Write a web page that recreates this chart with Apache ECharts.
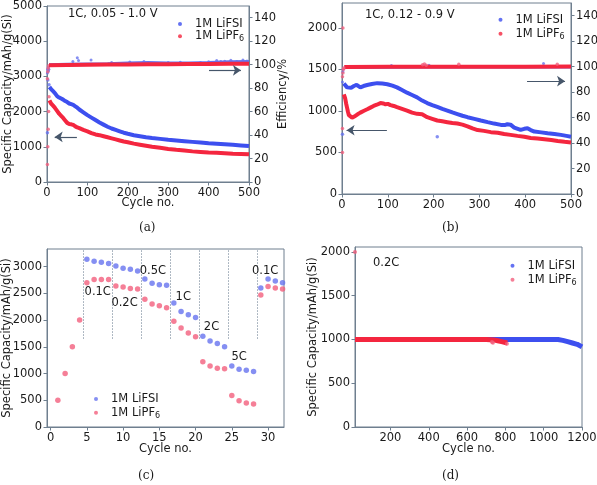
<!DOCTYPE html>
<html><head><meta charset="utf-8">
<script src="https://cdn.jsdelivr.net/npm/echarts/dist/echarts.min.js"></script>
<style>html,body{margin:0;padding:0;background:#fff}#c{width:597px;height:485px}</style>
</head><body><div id="c"></div>
<script>
// ---------- DATA ----------
// (a) 1C, 0.05 - 1.0 V
const aCycles = [6,10,15,20,25,30,35,40,45,50,55,60,65,70,75,80,90,100,110,120,130,140,150,160,170,180,190,200,215,230,245,260,280,300,320,340,360,380,400,420,440,460,480,500];
const aFsiCap = [2700,2640,2580,2520,2440,2400,2370,2340,2300,2270,2230,2210,2190,2150,2110,2060,1980,1900,1830,1760,1690,1630,1570,1520,1480,1440,1400,1370,1330,1300,1270,1250,1225,1200,1180,1160,1140,1120,1100,1085,1070,1055,1040,1020];
const aPf6Cap = [2320,2230,2170,2100,2020,1940,1880,1820,1750,1680,1650,1640,1620,1580,1550,1530,1480,1440,1390,1350,1330,1300,1270,1240,1210,1180,1150,1130,1090,1060,1030,1000,970,940,915,895,870,855,840,830,820,805,795,785];
const aEarlyCycles = [1,2,3,4,5];
const aFsiEarlyCap = [1400,2900,3150,3200,2760];
const aPf6EarlyCap = [500,1000,1500,2000,2420];
const aEffCycles = [5,50,100,150,200,250,300,350,400,450,500];
const aPf6Eff = [99.6,99.8,100,100.1,100.2,100.3,100.4,100.5,100.6,100.7,100.8];
const aFsiEff = [99.8,100.2,100.4,100.6,101.2,101.6,101.2,101.3,101.6,102.2,102.4];
const aFsiEffOutX = [1,2,3,64,75,78,109,160,205,240,300,330,380,400,420,430,440,455,470,485,495];
const aFsiEffOutY = [93,96,98,102.8,106,103.5,104,101.8,102.2,102.8,101.8,102,101.9,102.5,103.5,102.6,103,103.8,102.8,104,103.2];
const aPf6EffEarlyX = [1,2,3,4];
const aPf6EffEarlyY = [88,94,97,99];

// (b) 1C, 0.12 - 0.9 V
const bFsiCycles = [4,8,11,15,20,26,32,36,40,47,55,65,77,88,99,110,120,131,142,153,164,175,186,197,208,219,230,241,252,263,274,289,303,318,332,347,355,361,368,376,390,398,405,412,420,435,449,464,478,490,500];
const bFsiCap = [1330,1310,1284,1260,1280,1300,1315,1324,1284,1300,1312,1325,1335,1330,1322,1305,1284,1252,1220,1192,1164,1125,1095,1070,1048,1025,1005,982,962,942,925,905,885,865,848,832,830,840,835,800,772,785,792,770,752,742,732,722,712,700,690];
const bPf6Cycles = [4,7,9,11,13,15,18,22,26,29,34,40,47,55,62,69,76,84,90,95,100,106,113,120,131,142,153,164,175,186,197,208,219,230,241,252,263,274,285,296,310,325,340,354,368,383,398,412,427,442,457,471,486,500];
const bPf6Cap = [1200,1150,1090,1040,990,950,930,920,930,940,960,980,1000,1020,1040,1060,1075,1095,1090,1080,1085,1070,1060,1045,1025,1005,980,965,960,925,905,885,875,865,855,848,835,815,790,770,760,745,738,722,712,700,690,675,668,660,650,638,628,620];
const bFsiCapOutX = [1,208];
const bFsiCapOutY = [720,690];
const bPf6CapOutX = [2,1,1];
const bPf6CapOutY = [2000,790,500];
const bEffCycles = [5,100,200,300,400,500];
const bPf6Eff = [99.7,100,100,100,100,100.1];
const bFsiEff = [99.6,99.8,99.9,99.9,99.9,100];
const bPf6EffOutX = [1,2,3,4,176,180,184,255,470];
const bPf6EffOutY = [92,95,98,99,101.5,102,101.2,101.8,101.8];
const bFsiEffOutX = [1,2,3,108,180,190,440];
const bFsiEffOutY = [88,96,98,101,100.8,101.2,102.5];

// (c) rate capability
const cFsiCycles = [5,6,7,8,9,10,11,12,13,14,15,16,17,18,19,20,21,22,23,24,25,26,27,28,29,30,31,32];
const cFsiCap = [3140,3100,3080,3060,3010,2970,2950,2920,2770,2690,2660,2650,2320,2160,2100,2050,1700,1610,1560,1500,1140,1080,1060,1040,2600,2770,2730,2700];
const cPf6Cycles = [1,2,3,4,5,6,7,8,9,10,11,12,13,14,15,16,17,18,19,20,21,22,23,24,25,26,27,28,29,30,31,32];
const cPf6Cap = [500,1000,1500,2000,2700,2760,2760,2760,2640,2620,2590,2580,2390,2300,2270,2230,1980,1850,1760,1690,1220,1140,1100,1090,590,490,450,430,2470,2630,2600,2580];
const cDividers = [4.5,8.5,12.5,16.5,20.5,24.5,28.5];
const cRateNames = ['0.1C','0.2C','0.5C','1C','2C','5C','0.1C'];
const cRateX = [6.5,10.2,14.1,18.3,22.2,26.0,29.6];
const cRateY = [2520,2320,2910,2440,1870,1310,2910];

// (d) 0.2C long cycling
const dFsiCycles = [15,200,400,600,760,900,1000,1075,1100,1125,1150,1175,1200];
const dFsiCap = [1000,1000,1000,1000,1000,1000,1000,1000,990,975,960,945,915];
const dPf6Cycles = [15,200,400,600,700,740,760,780,800,810];
const dPf6Cap = [1000,1000,1000,1000,1000,995,985,975,965,960];
const dPf6OutX = [15,730,735,808];
const dPf6OutY = [2000,970,962,950];

// ---------- STYLE ----------
const BLUE='#3d4fef', RED='#f4263f', LBLUE='#6673ef', PINK='#f25f7d', AX='#6f7f8f', TXT='#1a1a1a', ARW='#46566a';
const FONT='DejaVu Sans', FS=11.5;
const zip=(xs,ys)=>xs.map((x,i)=>[x,ys[i]]);
const NAME_FSI='1M LiFSI', NAME_PF6='1M LiPF6';

function grid(left,top,width,height){return {left,top,width,height,containLabel:false,outerBoundsMode:'none',show:true,borderColor:AX,borderWidth:1,backgroundColor:'transparent'};}
function axis(kind,gi,o){
  const a={type:'value',gridIndex:gi,nameMoveOverlap:false,
    axisLine:{show:true,onZero:false,lineStyle:{color:AX,width:1}},
    axisTick:{show:true,length:3.5,lineStyle:{color:AX,width:1}},
    splitLine:{show:false},
    axisLabel:{color:TXT,fontSize:FS,fontFamily:FONT,margin:5,formatter:v=>String(v),
      showMinLabel:o.showMin!==false,showMaxLabel:o.showMax!==false},
    nameTextStyle:{color:TXT,fontSize:FS,fontFamily:FONT},
    nameLocation:'middle'};
  ['min','max','interval','position','name','nameGap','splitNumber'].forEach(k=>{if(o[k]!==undefined)a[k]=o[k];});
  return a;
}
function line(name,xi,yi,xs,ys,color,w,z){return {type:'line',name,xAxisIndex:xi,yAxisIndex:yi,data:zip(xs,ys),symbol:'none',showSymbol:false,
  lineStyle:{color,width:w},itemStyle:{color},z:z||2,silent:true,animation:false};}
function dots(name,xi,yi,xs,ys,color,size,z){return {type:'scatter',name,xAxisIndex:xi,yAxisIndex:yi,data:zip(xs,ys),symbol:'circle',symbolSize:size,
  itemStyle:{color},z:z||3,silent:true,animation:false};}
function arrow(xi,yi,from,to){return {type:'line',xAxisIndex:xi,yAxisIndex:yi,data:[],silent:true,
  markLine:{silent:true,symbol:['none','arrow'],symbolSize:8,label:{show:false},lineStyle:{color:ARW,width:1.2,type:'solid'},
  emphasis:{disabled:true},animation:false,data:[[{coord:from},{coord:to}]]}};}

function legend(left,top,gap,cFsi,cPf6){
  return {orient:'vertical',left,top,itemGap:gap,icon:'circle',itemWidth:4,itemHeight:4,selectedMode:false,
    data:[{name:NAME_FSI,itemStyle:{color:cFsi}},{name:NAME_PF6,itemStyle:{color:cPf6}}],
    formatter:n=>n===NAME_PF6?'{t|1M LiPF}{s|6}':'{t|'+n+'}',
    textStyle:{padding:[0,0,0,8],rich:{t:{fontSize:FS,fontFamily:FONT,color:TXT,lineHeight:14},
      s:{fontSize:8,fontFamily:FONT,color:TXT,lineHeight:8,verticalAlign:'bottom'}}}};
}

const option={
  animation:false,
  textStyle:{fontFamily:FONT},
  grid:[grid(47,6,202,176),grid(342,3,229,191),grid(47,249,237,178),grid(355,247,227,180)],
  xAxis:[
    axis('x',0,{min:0,max:500,interval:100,name:'Cycle no.',nameGap:15}),
    axis('x',1,{min:0,max:500,interval:100}),
    axis('x',2,{min:-0.5,max:32.2,splitNumber:5,showMin:false,showMax:false,name:'Cycle no.',nameGap:16}),
    axis('x',3,{min:15,max:1200,splitNumber:5,showMin:false,name:'Cycle no.',nameGap:16})
  ],
  yAxis:[
    axis('y',0,{min:0,max:5000,interval:1000,position:'left',name:'Specific Capacity/mAh/g(Si)',nameGap:33}),
    axis('y',0,{min:0,max:150,interval:20,position:'right',showMax:false,name:'Efficiency/%',nameGap:28}),
    axis('y',1,{min:0,max:2300,interval:500,position:'left',showMax:false}),
    axis('y',1,{min:0,max:150,interval:20,position:'right',showMax:false}),
    axis('y',2,{min:0,max:3330,interval:500,position:'left',showMax:false,name:'Specific Capacity/mAh/g(Si)',nameGap:34}),
    axis('y',3,{min:0,max:2057,interval:500,position:'left',showMax:false,name:'Specific Capacity/mAh/g(Si)',nameGap:35.5})
  ],
  legend:[legend(173,13,0.3,BLUE,RED),legend(493.5,8.7,2,BLUE,RED),legend(89,388,1.7,LBLUE,PINK),legend(505.5,254.7,2,BLUE,PINK)],
  series:[
    // legend entries (no marks of their own)
    dots(NAME_FSI,0,0,[],[],BLUE,5),
    dots(NAME_PF6,0,0,[],[],RED,5),
    // (a)
    line('aFsiCap',0,0,aCycles,aFsiCap,BLUE,4),
    line('aPf6Cap',0,0,aCycles,aPf6Cap,RED,4),
    dots('aFsiEarly',0,0,aEarlyCycles,aFsiEarlyCap,LBLUE,3.5),
    dots('aPf6Early',0,0,aEarlyCycles,aPf6EarlyCap,PINK,3.5),
    line('aFsiEff',0,1,aEffCycles,aFsiEff,LBLUE,3.5,2),
    dots('aFsiEffOut',0,1,aFsiEffOutX,aFsiEffOutY,LBLUE,3,2),
    line('aPf6Eff',0,1,aEffCycles,aPf6Eff,RED,4,4),
    dots('aPf6EffEarly',0,1,aPf6EffEarlyX,aPf6EffEarlyY,PINK,3.5),
    arrow(0,0,[74,1280],[19,1280]),
    arrow(0,1,[401,95.2],[480,95.2]),
    // (b)
    line('bFsiCap',1,2,bFsiCycles,bFsiCap,BLUE,4),
    line('bPf6Cap',1,2,bPf6Cycles,bPf6Cap,RED,4),
    dots('bFsiOut',1,2,bFsiCapOutX,bFsiCapOutY,LBLUE,3.5),
    dots('bPf6Out',1,2,bPf6CapOutX,bPf6CapOutY,PINK,3.5),
    line('bFsiEff',1,3,bEffCycles,bFsiEff,LBLUE,3.5,2),
    dots('bFsiEffOut',1,3,bFsiEffOutX,bFsiEffOutY,LBLUE,3,2),
    line('bPf6Eff',1,3,bEffCycles,bPf6Eff,RED,4,4),
    dots('bPf6EffOut',1,3,bPf6EffOutX,bPf6EffOutY,PINK,3.5,4),
    arrow(1,2,[98,768],[10,768]),
    arrow(1,3,[404,88.6],[487,88.6]),
    // (c)
    dots('cFsi',2,4,cFsiCycles,cFsiCap,LBLUE,5.5),
    Object.assign(dots('cPf6',2,4,cPf6Cycles,cPf6Cap,PINK,5.5),{
      markLine:{silent:true,symbol:['none','none'],label:{show:false},lineStyle:{color:'#95a2b0',width:1,type:[1.5,1.5]},animation:false,
        data:cDividers.map(x=>[{coord:[x,1650]},{coord:[x,3330]}])},
      markPoint:{silent:true,symbol:'circle',symbolSize:0,animation:false,
        label:{show:true,position:'inside',color:TXT,fontSize:FS,fontFamily:FONT,formatter:'{b}'},
        data:cRateNames.map((n,i)=>({name:n,coord:[cRateX[i],cRateY[i]]}))}}),
    // (d)
    line('dFsi',3,5,dFsiCycles,dFsiCap,BLUE,5),
    line('dPf6',3,5,dPf6Cycles,dPf6Cap,RED,5,3),
    dots('dPf6Out',3,5,dPf6OutX,dPf6OutY,PINK,4,3)
  ],
  graphic:[
    {type:'text',left:68,top:8,style:{text:'1C, 0.05 - 1.0 V',font:FS+'px "DejaVu Sans"',fill:TXT}},
    {type:'text',left:365,top:9,style:{text:'1C, 0.12 - 0.9 V',font:FS+'px "DejaVu Sans"',fill:TXT}},
    {type:'text',left:373,top:257,style:{text:'0.2C',font:FS+'px "DejaVu Sans"',fill:TXT}},
    {type:'text',left:139,top:222,style:{text:'(a)',font:'12px "DejaVu Serif"',fill:TXT}},
    {type:'text',left:442,top:222,style:{text:'(b)',font:'12px "DejaVu Serif"',fill:TXT}},
    {type:'text',left:138,top:470,style:{text:'(c)',font:'12px "DejaVu Serif"',fill:TXT}},
    {type:'text',left:442,top:470,style:{text:'(d)',font:'12px "DejaVu Serif"',fill:TXT}}
  ]
};
const chart=echarts.init(document.getElementById('c'),null,{renderer:'canvas'});
chart.setOption(option);
</script></body></html>
